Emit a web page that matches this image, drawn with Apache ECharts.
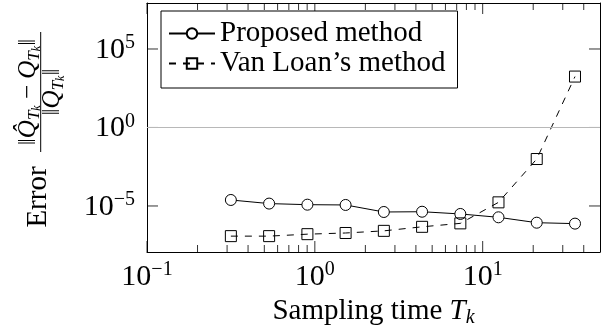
<!DOCTYPE html>
<html><head><meta charset="utf-8">
<script src="https://cdn.jsdelivr.net/npm/echarts@6/dist/echarts.min.js"></script>
<style>
html,body{margin:0;padding:0;background:#fff}
#wrap{position:relative;width:612px;height:329px}
#t,#c{position:absolute;left:0;top:0;width:612px;height:329px}
#t{z-index:0}
#c{z-index:1}
</style>
</head><body><div id="wrap"><div id="t"></div><div id="c"></div></div>
<script>
// ---- data ----
const samplingTimes = [0.316, 0.534, 0.903, 1.525, 2.577, 4.355, 7.36, 12.42, 20.99, 35.48];
const proposedError = [2.41e-5, 1.42e-5, 1.21e-5, 1.16e-5, 4.14e-6, 4.3e-6, 3.1e-6, 1.9e-6, 8.6e-7, 7.5e-7];
const vanLoanError  = [1.2e-7, 1.2e-7, 1.6e-7, 1.9e-7, 2.6e-7, 4.7e-7, 7.8e-7, 1.7e-5, 9.8e-3, 1.75e3];
const seriesNames = ['Proposed method', 'Van Loan\u2019s method'];
const xMajorTicks = [0.1, 1, 10];
const xMinorTicks = [0.2,0.3,0.4,0.5,0.6,0.7,0.8,0.9,2,3,4,5,6,7,8,9,20,30,40];
const yMajorTicks = [1e-5, 1, 1e5];
const xRange = [0.1, 50];
const yRange = [1.17e-8, 8.5e7];
const refLineY = 1;

const FONT = '"Liberation Serif", "DejaVu Serif", serif';
const GRID = {left: 147, right: 12, top: 3, bottom: 77, containLabel: false, outerBoundsMode: 'none'};
function powLabel(v) {
  const e = Math.round(Math.log10(v));
  const s = e < 0 ? '\u2212' + (-e) : '' + e;
  return '{b|10}{s|' + s + '}';
}
const powRich = {
  b: {fontFamily: FONT, fontSize: 30, color: '#000', lineHeight: 32, verticalAlign: 'bottom'},
  s: {fontFamily: FONT, fontSize: 20, color: '#000', lineHeight: 20, verticalAlign: 'top'}
};
const axisLineStyle = {color: '#000', width: 1};
const TICK_COLOR = '#333';

function xAxisDef(pos, labels) {
  return {
    type: 'log', position: pos, min: xRange[0], max: xRange[1],
    axisLine: {show: true, onZero: false, lineStyle: axisLineStyle},
    axisTick: {show: false},
    axisLabel: labels ? {show: true, customValues: xMajorTicks, formatter: powLabel, rich: powRich, margin: 8} : {show: false},
    splitLine: {show: false}, minorTick: {show: false}, minorSplitLine: {show: false}
  };
}
function yAxisDef(pos, labels) {
  return {
    type: 'log', position: pos, min: yRange[0], max: yRange[1],
    axisLine: {show: true, onZero: false, lineStyle: axisLineStyle},
    axisTick: {show: false},
    axisLabel: labels ? {show: true, customValues: yMajorTicks, formatter: powLabel, rich: powRich, margin: 12} : {show: false},
    splitLine: {show: false}, minorTick: {show: false}
  };
}

const xBottom = xAxisDef('bottom', true);
xBottom.name = '{n|Sampling time }{i|T}{k|k}';
xBottom.nameLocation = 'middle';
xBottom.nameGap = 43;
xBottom.nameTextStyle = {rich: {
  n: {fontFamily: FONT, fontSize: 29, color: '#000', lineHeight: 32, verticalAlign: 'middle'},
  i: {fontFamily: FONT, fontSize: 29, fontStyle: 'italic', color: '#000', lineHeight: 32, verticalAlign: 'middle'},
  k: {fontFamily: FONT, fontSize: 20, fontStyle: 'italic', color: '#000', lineHeight: 20, verticalAlign: 'bottom'}
}};

const fracRich = {
  n: {fontFamily: FONT, fontSize: 25, color: '#000', lineHeight: 28, verticalAlign: 'middle'},
  i: {fontFamily: FONT, fontSize: 25, fontStyle: 'italic', color: '#000', lineHeight: 28, verticalAlign: 'middle'},
  t: {fontFamily: FONT, fontSize: 17, fontStyle: 'italic', color: '#000', lineHeight: 18, verticalAlign: 'bottom'},
  k: {fontFamily: FONT, fontSize: 12, fontStyle: 'italic', color: '#000', lineHeight: 12, verticalAlign: 'bottom'}
};

// ---- tick layer (drawn underneath the main chart, same grid and log scales) ----
function tickSeries(vals, orient, len) {
  return {
    type: 'custom', clip: false, silent: true, z: 6,
    data: vals.map(v => orient === 'x' ? [v, refLineY] : [xMajorTicks[1], v]),
    renderItem: function (params, api) {
      const cs = params.coordSys;
      const p = api.coord([api.value(0), api.value(1)]);
      if (orient === 'x') {
        const x = p[0], yb = cs.y + cs.height, yt = cs.y;
        return {type: 'group', children: [
          {type: 'line', shape: {x1: x, y1: yb, x2: x, y2: yb - len}, style: {stroke: TICK_COLOR, lineWidth: 1}},
          {type: 'line', shape: {x1: x, y1: yt, x2: x, y2: yt + len}, style: {stroke: TICK_COLOR, lineWidth: 1}}
        ]};
      }
      const y = p[1], xl = cs.x, xr = cs.x + cs.width;
      return {type: 'group', children: [
        {type: 'line', shape: {x1: xl, y1: y, x2: xl + len, y2: y}, style: {stroke: TICK_COLOR, lineWidth: 1}},
        {type: 'line', shape: {x1: xr, y1: y, x2: xr - len, y2: y}, style: {stroke: TICK_COLOR, lineWidth: 1}}
      ]};
    }
  };
}
const tickChart = echarts.init(document.getElementById('t'));
tickChart.setOption({
  animation: false,
  grid: GRID,
  xAxis: {type: 'log', min: xRange[0], max: xRange[1], axisLine: {show: false}, axisTick: {show: false}, axisLabel: {show: false}, splitLine: {show: false}},
  yAxis: {type: 'log', min: yRange[0], max: yRange[1], axisLine: {show: false}, axisTick: {show: false}, axisLabel: {show: false}, splitLine: {show: false}},
  series: [
    tickSeries(xMajorTicks, 'x', 11),
    tickSeries(xMinorTicks, 'x', 7),
    tickSeries(yMajorTicks, 'y', 11)
  ]
});

// ---- main chart ----
const chart = echarts.init(document.getElementById('c'), null, {renderer: 'canvas'});
chart.setOption({
  animation: false,
  grid: GRID,
  xAxis: [xBottom, xAxisDef('top', false)],
  yAxis: [yAxisDef('left', true), yAxisDef('right', false)],
  legend: {
    left: 161, top: 11, orient: 'vertical', z: 5,
    padding: [8, 12, 10, 7], itemGap: 1, itemWidth: 46, itemHeight: 13,
    borderColor: '#000', borderWidth: 1, backgroundColor: '#fff',
    textStyle: {fontFamily: FONT, fontSize: 29, color: '#000', lineHeight: 29},
    data: seriesNames
  },
  graphic: [{
    type: 'group', x: 40.7, y: 92, rotation: Math.PI / 2,
    children: [
      {type: 'text', x: -105, y: -2, style: {text: 'Error', font: '29px ' + FONT, fill: '#000', align: 'center', verticalAlign: 'middle'}},
      {type: 'line', shape: {x1: -60, y1: 0, x2: 60, y2: 0}, style: {stroke: '#000', lineWidth: 1}},
      {type: 'text', x: 0, y: -12, style: {text: '{n|\u2016}{i|Q\u0302}{t|T}{k|k}{n| \u2212 }{i|Q}{t|T}{k|k}{n|\u2016}', rich: fracRich, align: 'center', verticalAlign: 'middle'}},
      {type: 'text', x: 0, y: 12, style: {text: '{n|\u2016}{i|Q}{t|T}{k|k}{n|\u2016}', rich: fracRich, align: 'center', verticalAlign: 'middle'}}
    ]
  }],
  series: [
    {
      name: seriesNames[0], type: 'line', xAxisIndex: 0, yAxisIndex: 0,
      data: samplingTimes.map((t, i) => [t, proposedError[i]]),
      symbol: 'circle', symbolSize: 11, showAllSymbol: true,
      lineStyle: {color: '#000', width: 1},
      itemStyle: {color: '#fff', borderColor: '#000', borderWidth: 1},
      z: 3,
      markLine: {
        silent: true, symbol: 'none', label: {show: false},
        lineStyle: {color: '#b8b8b8', type: 'solid', width: 1},
        data: [{yAxis: refLineY}]
      }
    },
    {
      name: seriesNames[1], type: 'line', xAxisIndex: 0, yAxisIndex: 0,
      data: samplingTimes.map((t, i) => [t, vanLoanError[i]]),
      symbol: 'rect', symbolSize: 11, showAllSymbol: true,
      lineStyle: {color: '#000', width: 1, type: [7, 7]},
      itemStyle: {color: 'rgba(255,255,255,0)', borderColor: '#000', borderWidth: 1},
      z: 4
    }
  ]
});
</script></body></html>
